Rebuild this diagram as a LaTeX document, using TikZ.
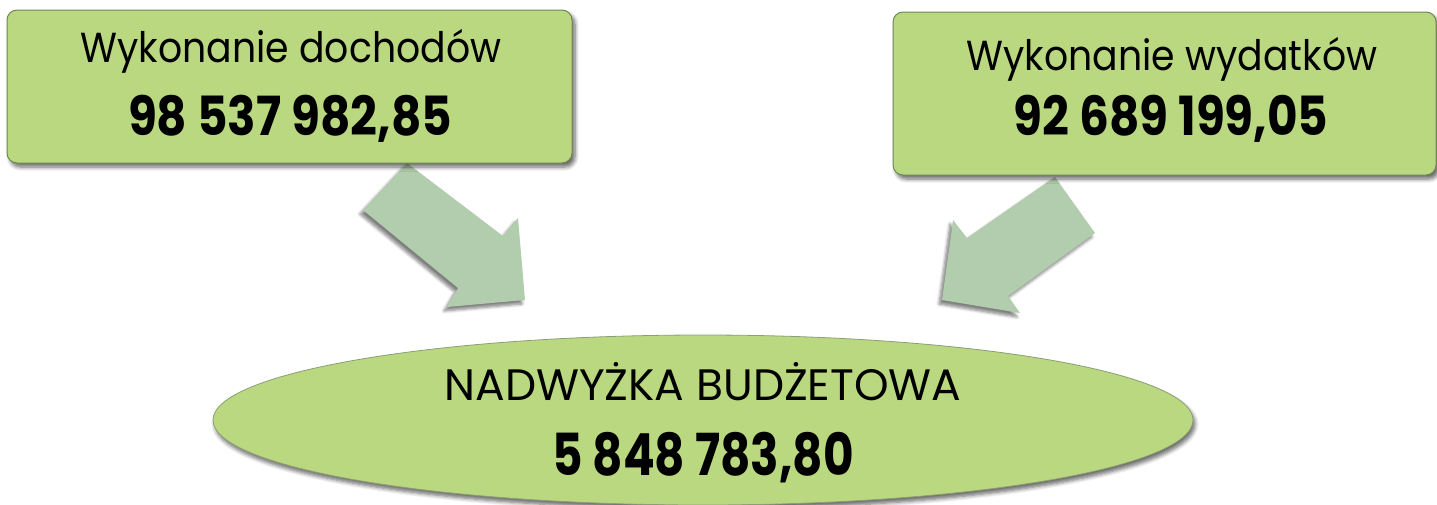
\documentclass[tikz,border=0pt]{standalone}
\usepackage{fontspec}
\setmainfont{Poppins}
\usetikzlibrary{shadows.blur,shapes.geometric}
\definecolor{boxfill}{RGB}{186,216,128}
\definecolor{boxline}{RGB}{112,134,84}
\definecolor{arrowfill}{RGB}{178,204,174}
\tikzset{
  valbox/.style={draw=boxline, line width=1pt, fill=boxfill, rounded corners=10pt,
    blur shadow={shadow xshift=3pt, shadow yshift=-4pt, shadow blur steps=6, shadow blur radius=4pt, shadow opacity=60}},
  blockarrow/.style={fill=arrowfill, draw=none,
    blur shadow={shadow xshift=-3pt, shadow yshift=-4pt, shadow blur steps=6, shadow blur radius=3pt, shadow opacity=50}},
  resultell/.style={ellipse, draw=boxline!80, line width=0.8pt, fill=boxfill,
    blur shadow={shadow xshift=2pt, shadow yshift=-4pt, shadow blur steps=6, shadow blur radius=4pt, shadow opacity=60}},
  lbl/.style={font=\fontsize{42}{46}\selectfont, inner sep=0pt, anchor=base},
  num/.style={font=\fontsize{54}{58}\selectfont\bfseries, inner sep=0pt, anchor=base},
}
\begin{document}
\begin{tikzpicture}[x=1pt,y=-1pt]
\useasboundingbox (0,0) rectangle (1437,504);
% arrows first (behind boxes)
\fill[blockarrow] (407,163) -- (503,236) -- (518,218) -- (525,300) -- (447,307) -- (458,288) -- (363,210) -- cycle;
\fill[blockarrow] (1055,177) -- (1095,233) -- (1008,296) -- (1020,313) -- (942,300) -- (953,220) -- (967,238) -- cycle;
% boxes
\draw[valbox] (7,10) rectangle (572,163);
\draw[valbox] (893,12) rectangle (1436,175);
\node[lbl] (t1) at (291,62) {\scalebox{0.9}[1]{Wykonanie dochodów}};
\node[num] (n1) at (290,135) {\scalebox{0.87}[1]{98 537 982,85}};
\node[lbl] (t2) at (1172,70) {\scalebox{0.9}[1]{Wykonanie wydatków}};
\node[num] (n2) at (1171,135) {\scalebox{0.87}[1]{92 689 199,05}};
% ellipse
\node[resultell, minimum width=980pt, minimum height=170pt] (e) at (703,420) {};
\node[lbl, font=\fontsize{44}{48}\selectfont] (t3) at (703,400) {NADWYŻKA BUDŻETOWA};
\node[num, font=\fontsize{58}{62}\selectfont\bfseries] (n3) at (703,475) {\scalebox{0.81}[1]{5 848 783,80}};
\end{tikzpicture}
\end{document}
